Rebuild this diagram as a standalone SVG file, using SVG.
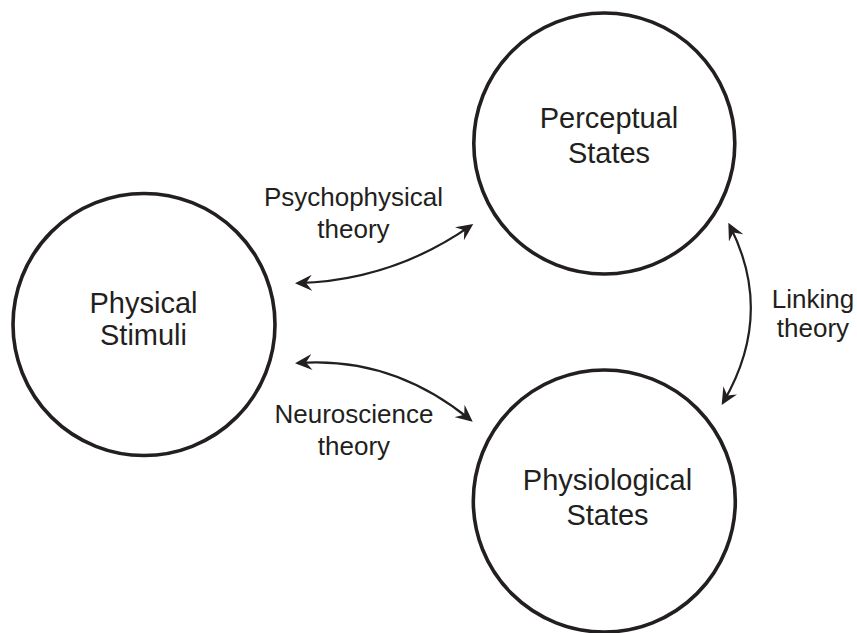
<svg xmlns="http://www.w3.org/2000/svg" width="857" height="633" viewBox="0 0 857 633">
  <style>
    .node circle { fill: #ffffff; stroke: #231f20; stroke-width: 3.6; }
    .big { font-family: "Liberation Sans", Arial, sans-serif; font-size: 29px; fill: #231f20; text-anchor: middle; }
    .lbl { font-family: "Liberation Sans", Arial, sans-serif; font-size: 26px; fill: #231f20; text-anchor: middle; }
    .conn path { fill: none; stroke: #231f20; stroke-width: 2.2; marker-start: url(#ah); marker-end: url(#ah); }
  </style>
  <defs>
    <marker id="ah" viewBox="0 0 17 16" markerWidth="17" markerHeight="16" refX="14" refY="8" orient="auto-start-reverse" markerUnits="userSpaceOnUse">
      <path d="M0,0 L17,8 L0,16 L6,8 z" fill="#231f20"/>
    </marker>
  </defs>
  <rect width="857" height="633" fill="#ffffff"/>

  <g id="physical-stimuli" class="node">
    <circle cx="144" cy="324.5" r="131"/>
    <text class="big" x="143.5" y="313">Physical</text>
    <text class="big" x="143.5" y="345">Stimuli</text>
  </g>

  <g id="perceptual-states" class="node">
    <circle cx="604.3" cy="143.5" r="130.5"/>
    <text class="big" x="609" y="128">Perceptual</text>
    <text class="big" x="609" y="163">States</text>
  </g>

  <g id="physiological-states" class="node">
    <circle cx="604.3" cy="501" r="131"/>
    <text class="big" x="607.5" y="490">Physiological</text>
    <text class="big" x="607.5" y="525">States</text>
  </g>

  <g id="connectors" class="conn">
    <path d="M298,283.2 Q392.8,280.3 470.8,225.7"/>
    <path d="M298,363.1 Q392,356 470.4,419.8"/>
    <path d="M729.7,225.4 Q775,314 723.2,402.4"/>
  </g>

  <g id="labels">
    <text class="lbl" x="353.5" y="206">Psychophysical</text>
    <text class="lbl" x="353.5" y="238">theory</text>
    <text class="lbl" x="354" y="423">Neuroscience</text>
    <text class="lbl" x="354" y="455">theory</text>
    <text class="lbl" x="813" y="308">Linking</text>
    <text class="lbl" x="813" y="337">theory</text>
  </g>
</svg>
